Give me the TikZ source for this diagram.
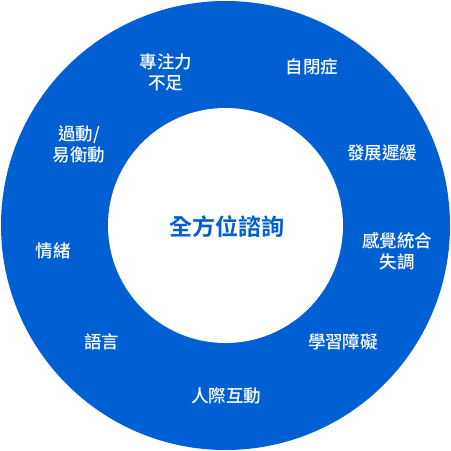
\documentclass[tikz,border=0pt]{standalone}
\usepackage{fontspec}
\usepackage{xcolor}
\newfontfamily\cjk{Noto Sans CJK TC Medium}
\newfontfamily\cjkbold{Noto Sans CJK TC Bold}
\definecolor{ringblue}{HTML}{0060D3}

\begin{document}
\begin{tikzpicture}[x=1pt, y=-1pt,
    label/.style={text=white, font=\cjk\fontsize{17.5}{21}\selectfont, align=center, inner sep=0pt}]
    \useasboundingbox (0,0) rectangle (451,451);

    % Ring
    \fill[ringblue] (225.5,225.5) circle (224.5);
    \fill[white] (225.5,225.5) circle (117.5);

    % Centre
    \node[text=ringblue, font=\cjkbold\fontsize{23}{27}\selectfont, inner sep=0pt] (centre) at (227,227) {全方位諮詢};

    % Labels
    \node[label] (attention) at (166,72.5) {專注力\\不足};
    \node[label] (autism) at (312,67) {自閉症};
    \node[label] (hyper) at (79,144) {過動/\\易衡動};
    \node[label] (delay) at (382,153) {發展遲緩};
    \node[label] (emotion) at (53,251) {情緒};
    \node[label] (sensory) at (397,251) {感覺統合\\失調};
    \node[label] (speech) at (102,342) {語言};
    \node[label] (learning) at (343,342) {學習障礙};
    \node[label] (social) at (226,396) {人際互動};
\end{tikzpicture}
\end{document}
